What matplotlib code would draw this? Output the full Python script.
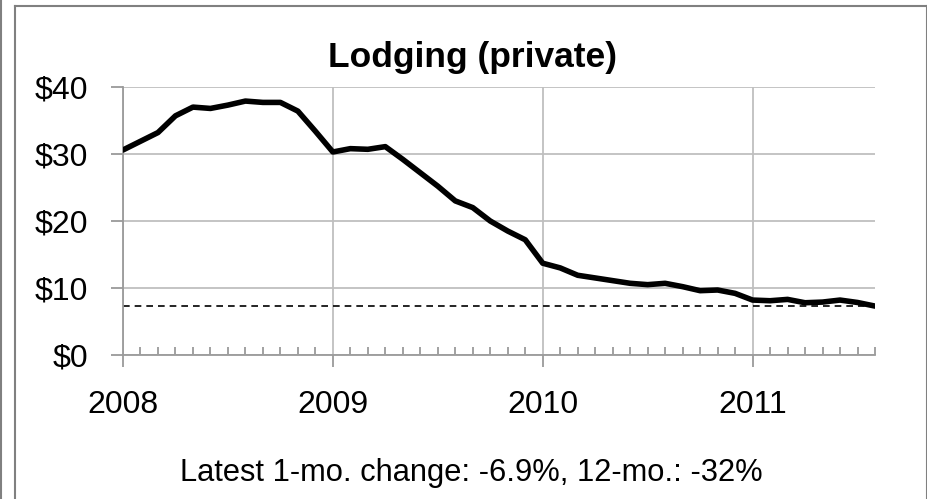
import matplotlib
matplotlib.use("Agg")
import matplotlib.pyplot as plt
from matplotlib.ticker import MultipleLocator, FixedLocator, FuncFormatter
import numpy as np

plt.rcParams['font.family'] = ['Liberation Sans', 'DejaVu Sans']

title = "Lodging (private)"
footer = "Latest 1-mo. change: -6.9%, 12-mo.: -32%"
year_labels = ["2008", "2009", "2010", "2011"]
y_ticks = [0, 10, 20, 30, 40]
# monthly values, Jan 2008 .. Aug 2011
values = [30.6, 31.9, 33.2, 35.7, 37.0, 36.8, 37.3, 37.9, 37.7, 37.7, 36.4, 33.4,
          30.3, 30.8, 30.7, 31.1, 29.2, 27.2, 25.2, 23.0, 22.0, 20.0, 18.5, 17.2,
          13.7, 13.0, 11.9, 11.5, 11.1, 10.7, 10.5, 10.7, 10.2, 9.6, 9.7, 9.2,
          8.2, 8.1, 8.3, 7.8, 7.9, 8.2, 7.84, 7.3]
latest = values[-1]

x = np.arange(len(values))

fig = plt.figure(figsize=(9.28, 4.99), dpi=100)
ax = fig.add_axes([123/928, 1-355/499, (875-123)/928, (355-87)/499])

grid_c = '#bfbfbf'
axis_c = '#9a9a9a'

ax.plot(x, values, color='black', lw=4.0, solid_joinstyle='round',
        solid_capstyle='round', zorder=3)
ax.axhline(latest, color='black', lw=1.2, ls=(0, (4, 3)), zorder=2)

ax.set_xlim(0, len(values) - 1)
ax.set_ylim(0, 40)

ax.xaxis.set_major_locator(FixedLocator([0, 12, 24, 36]))
ax.set_xticklabels(year_labels)
ax.xaxis.set_minor_locator(MultipleLocator(1))
ax.set_yticks(y_ticks)
ax.yaxis.set_major_formatter(FuncFormatter(lambda v, p: f"${v:.0f}"))

ax.grid(True, which='major', color=grid_c, lw=1.3)
ax.set_axisbelow(True)

for s in ['top', 'right']:
    ax.spines[s].set_visible(False)
for s in ['left', 'bottom']:
    ax.spines[s].set_color(axis_c)
    ax.spines[s].set_linewidth(1.3)

ax.tick_params(axis='x', which='major', direction='out', length=8.6, width=1.3,
               color=axis_c, labelsize=23, pad=16.3)
ax.tick_params(axis='x', which='minor', direction='in', length=5.8, width=1.3,
               color=axis_c)
ax.tick_params(axis='y', which='major', direction='out', length=8.6, width=1.3,
               color=axis_c, labelsize=23, pad=16.5)

fig.text(473/928, 1-67/499, title, ha='center', va='baseline', fontsize=25.5,
         fontweight='bold')
fig.text(471.5/928, 1-481/499, footer, ha='center', va='baseline', fontsize=22.2)

# frame around chart
line_kw = dict(transform=fig.transFigure, color='#808080', lw=1.5)
fig.add_artist(plt.Line2D([15/928, 15/928], [0, 1-6/499], **line_kw))
fig.add_artist(plt.Line2D([15/928, 927/928], [1-6/499, 1-6/499], **line_kw))
fig.add_artist(plt.Line2D([927/928, 927/928], [0, 1-6/499], **line_kw))
fig.add_artist(plt.Line2D([1.5/928, 1.5/928], [0, 1], **line_kw))

fig.savefig("out.png", dpi=100)
